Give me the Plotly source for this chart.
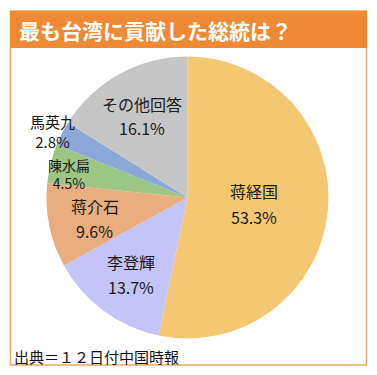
import math
import plotly.graph_objects as go

# ---- data ----
names = ["蒋経国", "李登輝", "蒋介石", "陳水扁", "馬英九", "その他回答"]
values = [53.3, 13.7, 9.6, 4.5, 2.8, 16.1]
colors = ["#F4C873", "#C4C4F8", "#E9AD7F", "#9DC584", "#8AA9D8", "#C6C6C6"]
title_text = "最も台湾に貢献した総統は？"
source_text = "出典＝１２日付中国時報"

# label placement style: radial fraction, gap between lines (None = one text block),
# extra vertical shift in px (positive = down), font size
label_radius = [0.475, 0.676, 0.67, 0.862, 1.078, 0.66]
line_gap = [26, 25, 25, None, None, 24]
label_down = [0, 0, 2, 6, 3, 0]
label_size = [16, 16, 16, 14, 15, 16]

# figure sized to the window minus the page's default 8px body margin
M = 8
W, H = 377 - M, 375 - M


def X(p):  # page pixel -> paper x
    return (p - M) / W


def Y(p):  # page pixel -> paper y
    return 1 - (p - M) / H


PIE_L, PIE_R, PIE_T, PIE_B = 46.5, 328.5, 56.5, 338.5
CX, CY = (PIE_L + PIE_R) / 2, (PIE_T + PIE_B) / 2
R = (PIE_R - PIE_L) / 2

FONT = "Noto Sans CJK JP, Hiragino Sans, sans-serif"

fig = go.Figure(go.Pie(
    labels=names, values=values, sort=False, direction="clockwise", rotation=0,
    marker=dict(colors=colors, line=dict(width=0)),
    textinfo="none", hoverinfo="label+percent", showlegend=False,
    domain=dict(x=[X(PIE_L), X(PIE_R)], y=[Y(PIE_B), Y(PIE_T)]),
))

total = sum(values)
cum = 0.0
annotations = []
for name, v, f, gap, dd, fs in zip(names, values, label_radius, line_gap, label_down, label_size):
    mid = (cum + v / 2) / total * 2 * math.pi
    cum += v
    px = CX + f * R * math.sin(mid)
    py = CY - f * R * math.cos(mid) + dd
    pct = f"{v:.1f}%"
    if gap is None:
        parts = ((f"{name}<br>{pct}", 0),)
    else:
        parts = ((name, gap / 2), (pct, -gap / 2))
    for txt, ys in parts:
        annotations.append(dict(
            x=X(px), y=Y(py), xref="paper", yref="paper", text=txt, showarrow=False,
            xanchor="center", yanchor="middle", yshift=ys,
            font=dict(family=FONT, size=fs, color="#1a1a1a"),
        ))

annotations.append(dict(
    x=X(17), y=Y(30), xref="paper", yref="paper", text=f"<b>{title_text}</b>",
    showarrow=False, xanchor="left", yanchor="middle",
    font=dict(family=FONT, size=21, color="white"),
))
annotations.append(dict(
    x=X(12), y=Y(356.5), xref="paper", yref="paper", text=source_text,
    showarrow=False, xanchor="left", yanchor="middle",
    font=dict(family=FONT, size=15, color="#111111"),
))

shapes = [
    dict(type="rect", xref="paper", yref="paper",
         x0=X(10.5), x1=X(366.5), y0=Y(365), y1=Y(11),
         line=dict(color="#E6AA66", width=1.5), fillcolor="rgba(0,0,0,0)", layer="below"),
    dict(type="rect", xref="paper", yref="paper",
         x0=X(10), x1=X(367), y0=Y(48), y1=Y(11),
         line=dict(width=0), fillcolor="#EE8A35", layer="below"),
]

fig.update_layout(
    width=W, height=H, margin=dict(l=0, r=0, t=0, b=0),
    paper_bgcolor="white", plot_bgcolor="white",
    annotations=annotations, shapes=shapes,
)

fig.write_html("out.html")
